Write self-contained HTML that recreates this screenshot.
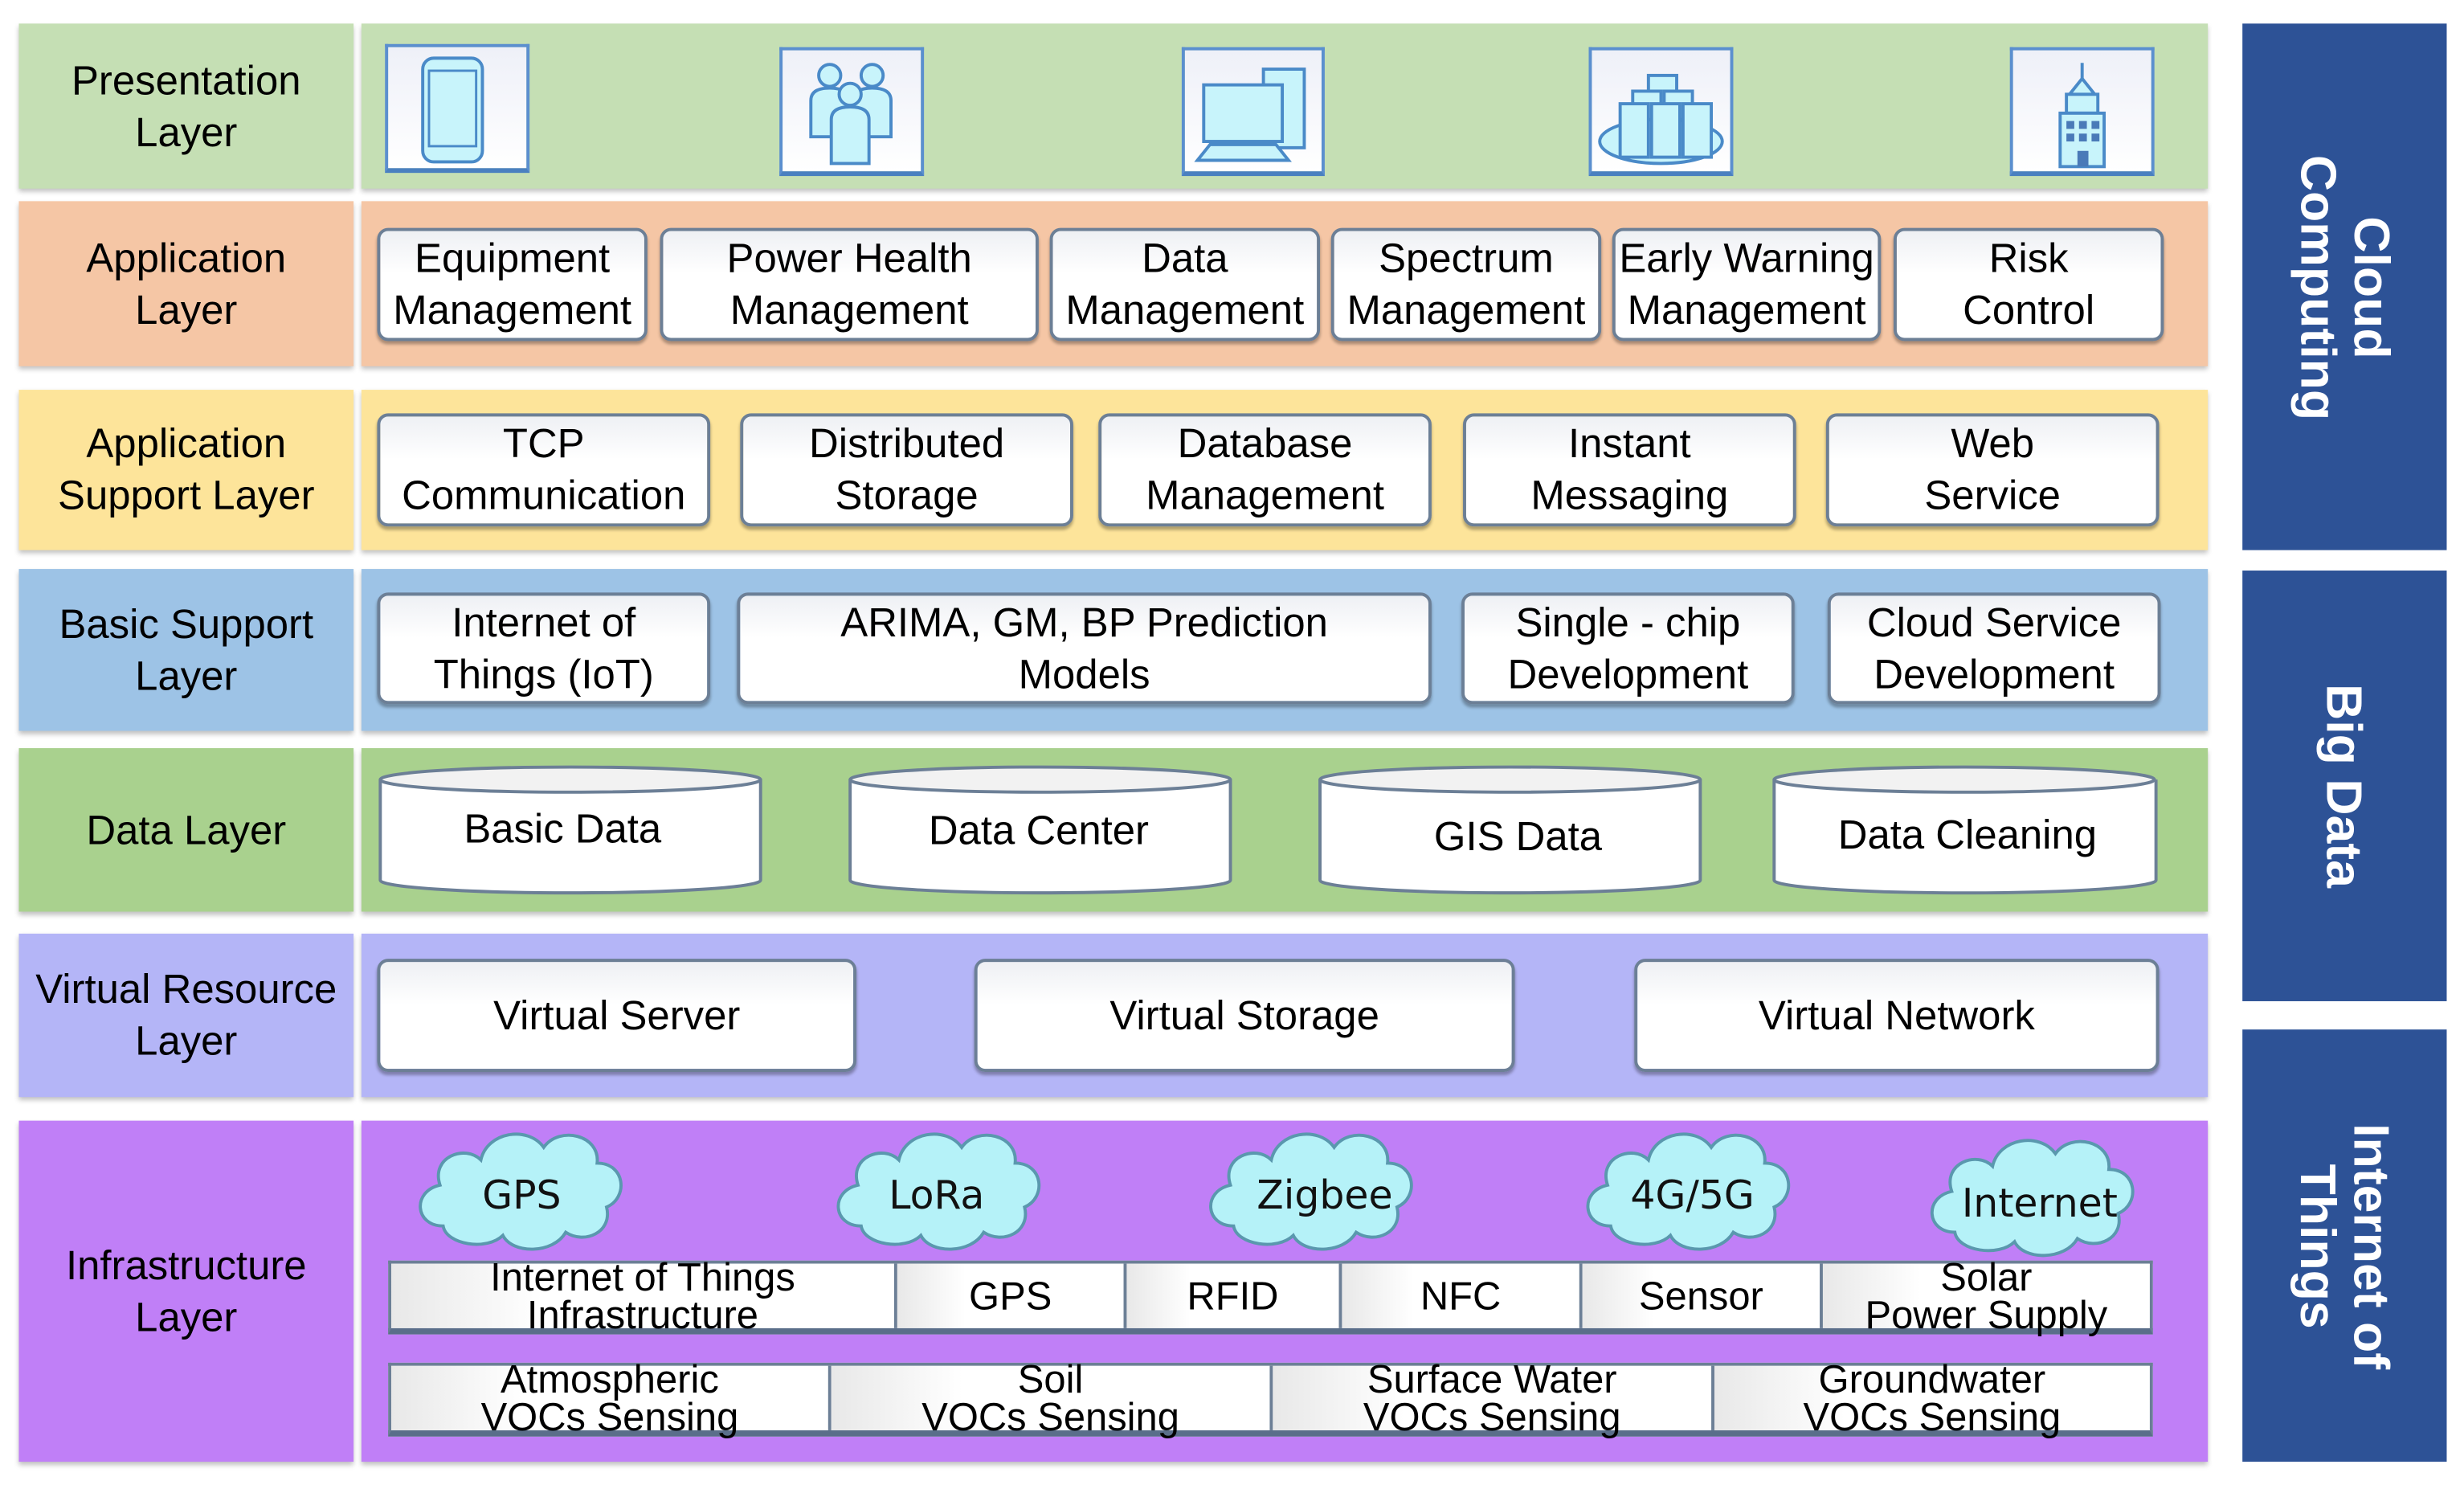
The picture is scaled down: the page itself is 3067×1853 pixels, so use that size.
<!DOCTYPE html>
<html><head><meta charset="utf-8"><style>
html,body{margin:0;padding:0;background:#fff;}
body{width:3067px;height:1853px;overflow:hidden;}
#s{position:absolute;left:0;top:0;width:1568px;height:947px;transform:scale(1.95599);transform-origin:0 0;font-family:"Liberation Sans",Arial,sans-serif;color:#000;}
.a{position:absolute;box-sizing:border-box;}
.lab{display:flex;align-items:center;justify-content:center;text-align:center;font-size:26px;line-height:33px;box-shadow:0 2px 3px rgba(0,0,0,.25);}
.bx{display:flex;align-items:center;justify-content:center;text-align:center;font-size:26px;line-height:33px;background:linear-gradient(#eef0f4,#fff 40%,#fff);border:2px solid #6c7f96;border-radius:7px;box-shadow:0 2px 2px rgba(0,0,0,.3);}
.ic{background:linear-gradient(#eef0f8,#fff);border:2px solid #5b8fcf;border-bottom:3px solid #4a80c0;}
.side{background:#2d5296;color:#fff;font-weight:bold;font-size:32px;line-height:34px;display:flex;align-items:center;justify-content:center;text-align:center;}
.side span{transform:rotate(90deg);white-space:nowrap;display:block;}
.cell{box-sizing:border-box;display:flex;align-items:center;justify-content:center;text-align:center;font-size:25px;line-height:24px;background:linear-gradient(90deg,#e8e8e8,#fff 30%,#fff);border-right:2px solid #6c7f96;}
.cyl{position:absolute;}
</style></head><body><div id="s">
<div class="a lab" style="left:12px;top:15px;width:213px;height:105px;background:#c5dfb4">Presentation<br>Layer</div>
<div class="a lab" style="left:230px;top:15px;width:1175px;height:105px;background:#c5dfb4"></div>
<div class="a lab" style="left:12px;top:128px;width:213px;height:105px;background:#f5c6a5">Application<br>Layer</div>
<div class="a lab" style="left:230px;top:128px;width:1175px;height:105px;background:#f5c6a5"></div>
<div class="a lab" style="left:12px;top:248px;width:213px;height:102px;background:#fde49a">Application<br>Support Layer</div>
<div class="a lab" style="left:230px;top:248px;width:1175px;height:102px;background:#fde49a"></div>
<div class="a lab" style="left:12px;top:362px;width:213px;height:103px;background:#9dc3e6">Basic Support<br>Layer</div>
<div class="a lab" style="left:230px;top:362px;width:1175px;height:103px;background:#9dc3e6"></div>
<div class="a lab" style="left:12px;top:476px;width:213px;height:104px;background:#a9d18e">Data Layer</div>
<div class="a lab" style="left:230px;top:476px;width:1175px;height:104px;background:#a9d18e"></div>
<div class="a lab" style="left:12px;top:594px;width:213px;height:104px;background:#b4b5f7">Virtual Resource<br>Layer</div>
<div class="a lab" style="left:230px;top:594px;width:1175px;height:104px;background:#b4b5f7"></div>
<div class="a lab" style="left:12px;top:713px;width:213px;height:217px;background:#c07ff7">Infrastructure<br>Layer</div>
<div class="a lab" style="left:230px;top:713px;width:1175px;height:217px;background:#c07ff7"></div>
<div class="a side" style="left:1427px;top:15px;width:130px;height:335px"><span>Cloud<br>Computing</span></div>
<div class="a side" style="left:1427px;top:363px;width:130px;height:274px"><span>Big Data</span></div>
<div class="a side" style="left:1427px;top:655px;width:130px;height:275px"><span>Internet of<br>Things</span></div>
<div class="a ic" style="left:245px;top:28px;width:92px;height:82px"><svg width="88" height="78"><rect x="22" y="7" width="38" height="66" rx="7" fill="#c8f4fb" stroke="#4a8ac8" stroke-width="2"/><rect x="26" y="15" width="30" height="48" fill="#c8f4fb" stroke="#4a8ac8" stroke-width="1.5"/></svg></div>
<div class="a ic" style="left:496px;top:30px;width:92px;height:82px"><svg width="88" height="78"><g fill="#c8f4fb" stroke="#4a8ac8" stroke-width="2"><circle cx="30" cy="16" r="7"/><circle cx="57" cy="16" r="7"/><path d="M18 55V32q0-8 12-8t12 8v23zM45 55V32q0-8 12-8t12 8v23z"/><circle cx="43" cy="28" r="7"/><path d="M31 72V44q0-8 12-8t12 8v28z"/></g></svg></div>
<div class="a ic" style="left:752px;top:30px;width:91px;height:82px"><svg width="87" height="78"><g fill="#c8f4fb" stroke="#4a8ac8" stroke-width="2"><rect x="50" y="12" width="26" height="50"/><rect x="12" y="22" width="50" height="36"/><path d="M8 70l8-10h42l8 10z"/></g></svg></div>
<div class="a ic" style="left:1011px;top:30px;width:92px;height:82px"><svg width="88" height="78"><g fill="#c8f4fb" stroke="#4a8ac8" stroke-width="2"><ellipse cx="44" cy="58" rx="39" ry="14"/><rect x="36" y="16" width="18" height="18"/><rect x="26" y="26" width="18" height="18"/><rect x="46" y="26" width="18" height="18"/><rect x="18" y="34" width="18" height="34"/><rect x="38" y="34" width="18" height="34"/><rect x="58" y="34" width="18" height="34"/></g></svg></div>
<div class="a ic" style="left:1279px;top:30px;width:92px;height:82px"><svg width="88" height="78"><g fill="#c8f4fb" stroke="#4a8ac8" stroke-width="2"><path d="M44 8v10M36 28l8-10 8 10"/><rect x="34" y="28" width="20" height="12"/><rect x="30" y="40" width="28" height="34"/></g><g fill="#4a7ab8"><rect x="34" y="45" width="5" height="5"/><rect x="42" y="45" width="5" height="5"/><rect x="50" y="45" width="5" height="5"/><rect x="34" y="53" width="5" height="5"/><rect x="42" y="53" width="5" height="5"/><rect x="50" y="53" width="5" height="5"/><rect x="41" y="64" width="7" height="10"/></g></svg></div>
<div class="a bx" style="left:240px;top:145px;width:172px;height:72px">Equipment<br>Management</div>
<div class="a bx" style="left:420px;top:145px;width:241px;height:72px">Power Health<br>Management</div>
<div class="a bx" style="left:668px;top:145px;width:172px;height:72px">Data<br>Management</div>
<div class="a bx" style="left:847px;top:145px;width:172px;height:72px">Spectrum<br>Management</div>
<div class="a bx" style="left:1026px;top:145px;width:171px;height:72px">Early Warning<br>Management</div>
<div class="a bx" style="left:1205px;top:145px;width:172px;height:72px">Risk<br>Control</div>
<div class="a bx" style="left:240px;top:263px;width:212px;height:72px">TCP<br>Communication</div>
<div class="a bx" style="left:471px;top:263px;width:212px;height:72px">Distributed<br>Storage</div>
<div class="a bx" style="left:699px;top:263px;width:212px;height:72px">Database<br>Management</div>
<div class="a bx" style="left:931px;top:263px;width:212px;height:72px">Instant<br>Messaging</div>
<div class="a bx" style="left:1162px;top:263px;width:212px;height:72px">Web<br>Service</div>
<div class="a bx" style="left:240px;top:377px;width:212px;height:71px">Internet of<br>Things (IoT)</div>
<div class="a bx" style="left:469px;top:377px;width:442px;height:71px">ARIMA, GM, BP Prediction<br>Models</div>
<div class="a bx" style="left:930px;top:377px;width:212px;height:71px">Single - chip<br>Development</div>
<div class="a bx" style="left:1163px;top:377px;width:212px;height:71px">Cloud Service<br>Development</div>
<svg class="cyl" style="left:240px;top:486px" width="1140" height="84">
<g fill="#fff" stroke="#6c7f96" stroke-width="2">
<path d="M2 10v64a120 8 0 0 0 242 0V10"/><ellipse cx="123" cy="10" rx="121" ry="8" fill="#f2f2f2"/>
<path d="M301 10v64a120 8 0 0 0 242 0V10"/><ellipse cx="422" cy="10" rx="121" ry="8" fill="#f2f2f2"/>
<path d="M600 10v64a120 8 0 0 0 242 0V10"/><ellipse cx="721" cy="10" rx="121" ry="8" fill="#f2f2f2"/>
<path d="M889 10v64a120 8 0 0 0 243 0V10"/><ellipse cx="1010" cy="10" rx="121" ry="8" fill="#f2f2f2"/>
</g>
<g font-family="Liberation Sans,Arial,sans-serif" font-size="26" text-anchor="middle" fill="#000">
<text x="118" y="50">Basic Data</text><text x="421" y="51">Data Center</text><text x="726" y="55">GIS Data</text><text x="1012" y="54">Data Cleaning</text></g>
</svg>
<div class="a bx" style="left:240px;top:610px;width:305px;height:72px">Virtual Server</div>
<div class="a bx" style="left:620px;top:610px;width:344px;height:72px">Virtual Storage</div>
<div class="a bx" style="left:1040px;top:610px;width:334px;height:72px">Virtual Network</div>
<svg class="cyl" style="left:230px;top:720px" width="1175" height="80">
<defs><g id="cl"><path d="M-48 22c-18 0-20-22-2-26c-6-18 16-26 26-16c4-18 30-22 40-8c10-14 36-8 34 10c18 0 20 22 6 28c4 16-14 24-26 16c-8 14-34 14-40 2c-10 10-36 6-38-6z" fill="#b5f2f8" stroke="#5a98ae" stroke-width="2"/></g></defs>
<g font-family="DejaVu Sans,sans-serif" font-size="25" text-anchor="middle" fill="#111">
<use href="#cl" x="100" y="38"/><text x="102" y="49">GPS</text>
<use href="#cl" x="366" y="38"/><text x="366" y="49">LoRa</text>
<use href="#cl" x="603" y="38"/><text x="613" y="49">Zigbee</text>
<use href="#cl" x="843" y="38"/><text x="847" y="49">4G/5G</text>
<use href="#cl" x="1062" y="42"/><text x="1068" y="54">Internet</text>
</g></svg>
<div class="a" style="left:247px;top:802px;width:1123px;height:47px;display:flex;border:2px solid #6c7f96;border-bottom:4px solid #5a6e8a;background:#fff">
<div class="cell" style="width:322px">Internet of Things<br>Infrastructure</div>
<div class="cell" style="width:146px">GPS</div>
<div class="cell" style="width:137px">RFID</div>
<div class="cell" style="width:153px">NFC</div>
<div class="cell" style="width:153px">Sensor</div>
<div class="cell" style="flex:1;border-right:none">Solar<br>Power Supply</div>
</div>
<div class="a" style="left:247px;top:867px;width:1123px;height:47px;display:flex;border:2px solid #6c7f96;border-bottom:4px solid #5a6e8a;background:#fff">
<div class="cell" style="width:280px">Atmospheric<br>VOCs Sensing</div>
<div class="cell" style="width:281px">Soil<br>VOCs Sensing</div>
<div class="cell" style="width:281px">Surface Water<br>VOCs Sensing</div>
<div class="cell" style="flex:1;border-right:none">Groundwater<br>VOCs Sensing</div>
</div>
</div></body></html>
